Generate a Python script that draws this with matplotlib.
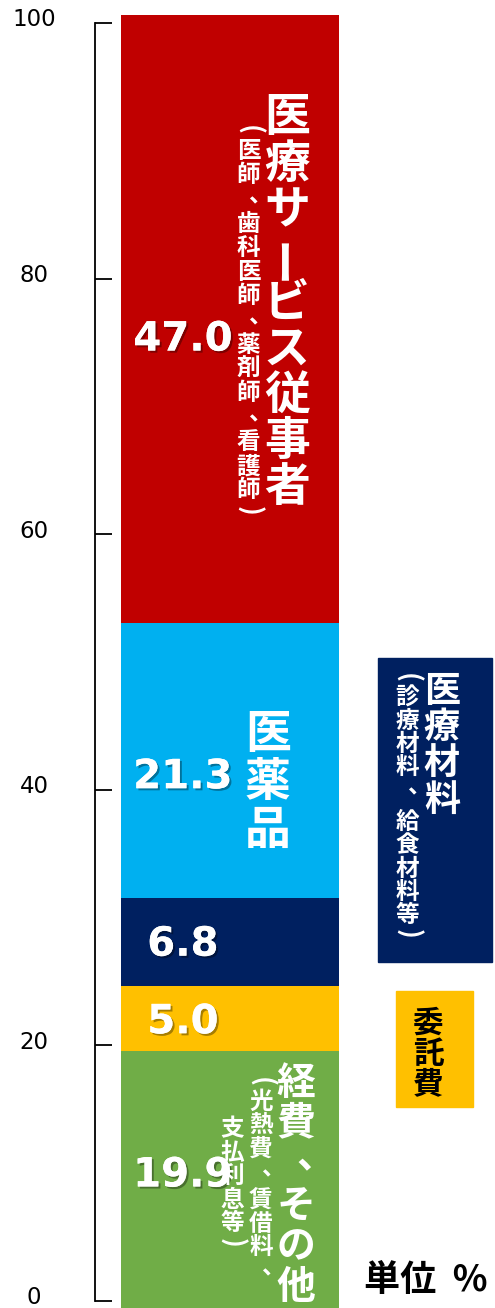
import matplotlib
matplotlib.use('Agg')
import matplotlib.pyplot as plt
import matplotlib.patheffects as pe
import matplotlib.transforms as mtransforms
from matplotlib.patches import Rectangle
import numpy as np

# cost breakdown, bottom to top of the stacked bar (%)
items = ['経費、その他', '委託費', '医療材料', '医薬品', '医療サービス従事者']
shares = [19.9, 5.0, 6.8, 21.3, 47.0]
colors = ['#70AD47', '#FFC000', '#002060', '#00B0F0', '#C00000']
yticks = [0, 20, 40, 60, 80, 100]
# small vertical nudges for the value labels (data units)
nudge = [0.3, -0.3, -0.2, -1.3, -1.6]

JP = ['Noto Sans CJK JP', 'DejaVu Sans']
plt.rcParams['font.family'] = ['DejaVu Sans']


def vtext(ax, x, y, s, size, pitch, color='white', comma=1.0, bracket=0.85):
    # stack characters top to bottom (tategaki); x axes fraction, y data
    tr = ax.get_yaxis_transform()
    off = 0.0
    for i, ch in enumerate(s):
        nxt = s[i + 1] if i + 1 < len(s) else ''
        rot, dx, dy = 0, 0, 0
        fs = size
        if ch in '()':
            rot = -90
            fs = size * 1.1
        elif ch == 'ー':
            rot = 90
        elif ch == '、':
            dx, dy = 0.5 * size, 0.15 * size
        ax.annotate(ch, (x, y), xycoords=tr, xytext=(dx, -off + dy),
                    textcoords='offset points', ha='center', va='center',
                    rotation=rot, fontsize=fs, fontweight='bold',
                    color=color, family=JP, annotation_clip=False)
        if ch == '、':
            off += comma * pitch
        elif ch in '()' or nxt in '()':
            off += bracket * pitch
        else:
            off += pitch


fig = plt.figure(figsize=(4.95, 13.08), dpi=100)

# scale on the left
sc = fig.add_axes([95 / 495, 7 / 1308, 0.001, 1278 / 1308])
sc.set_ylim(0, 100)
sc.set_yticks(yticks)
sc.set_xticks([])
for sp in ['top', 'right', 'bottom']:
    sc.spines[sp].set_visible(False)
sc.spines['left'].set_linewidth(1.3)
sc.tick_params(axis='y', direction='in', length=12, width=1.3, pad=44,
               labelsize=16.5)
lift = mtransforms.ScaledTranslation(0, 0.055, fig.dpi_scale_trans)
for t in sc.get_yticklabels():
    t.set_ha('center')
    t.set_transform(t.get_transform() + lift)
sc.patch.set_visible(False)

# the stacked bar
ax = fig.add_axes([121 / 495, 0, 218 / 495, 1293 / 1308])
bottom = np.concatenate([[0], np.cumsum(shares)[:-1]])
ax.bar(np.zeros(len(shares)), shares, bottom=bottom, width=1, color=colors)
ax.set_xlim(-0.5, 0.5)
ax.set_ylim(0, 100)
ax.axis('off')

shadow = [pe.withSimplePatchShadow(offset=(1.5, -1.5), shadow_rgbFace='black',
                                   alpha=0.35), pe.Normal()]
for v, b, n in zip(shares, bottom, nudge):
    ax.text(0.284, b + v / 2 + n, f'{v:.1f}',
            transform=ax.get_yaxis_transform(),
            ha='center', va='center', fontsize=29, fontweight='bold',
            color='white', path_effects=shadow)

# labels inside the bar
vtext(ax, 0.761, 92.0, '医療サービス従事者', 33, 33.3)
vtext(ax, 0.585, 91.1, '(医師、歯科医師、薬剤師、看護師)', 17, 17.3, comma=1.05)
vtext(ax, 0.674, 44.3, '医薬品', 33, 34.6)
vtext(ax, 0.803, 17.4, '経費、その他', 28, 28.8, comma=1.1)
vtext(ax, 0.642, 17.5, '(光熱費、賃借料、', 17, 16.9, comma=1.2)
vtext(ax, 0.509, 13.8, '支払利息等)', 17, 16.9)

# callout boxes on the right
tr = ax.get_yaxis_transform()
ax.add_patch(Rectangle((1.179, 26.76), 0.523, 23.51, transform=tr,
                       color='#002060', clip_on=False))
ax.add_patch(Rectangle((1.261, 15.55), 0.354, 8.97, transform=tr,
                       color='#FFC000', clip_on=False))
vtext(ax, 1.472, 47.7, '医療材料', 26, 26.1)
vtext(ax, 1.312, 48.7, '(診療材料、給食材料等)', 17, 16.6, comma=1.4)
vtext(ax, 1.408, 22.0, '委託費', 22, 22.0, color='black')

fig.text(426 / 495, 1 - 1281 / 1308, '単位  %', ha='center', va='center',
         fontsize=26, fontweight='bold', family=JP)

fig.savefig('out.png', dpi=100)
